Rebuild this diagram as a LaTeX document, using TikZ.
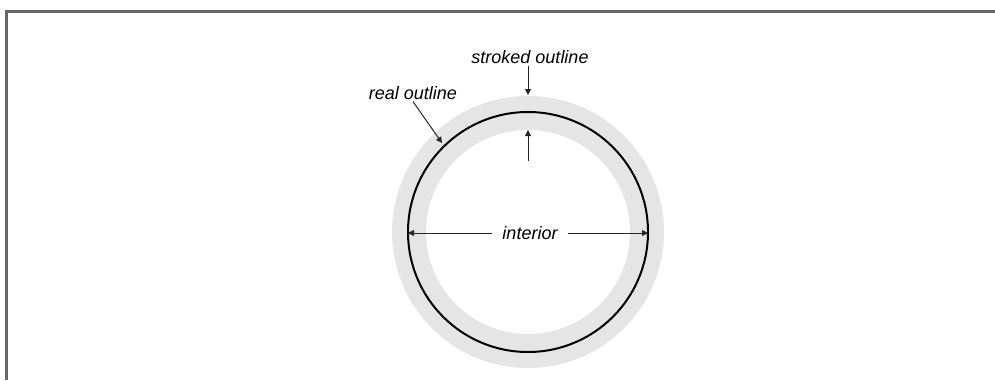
\documentclass[tikz,border=0pt]{standalone}
\usepackage{fontspec}
\setmainfont{Liberation Sans}
\usepackage{tikz}
\usetikzlibrary{arrows.meta, positioning}

\begin{document}
\begin{tikzpicture}[
  x=0.5pt, y=-0.5pt,
  every node/.style={font=\itshape\fontsize{9}{10}\selectfont, inner sep=1pt},
  pointer/.style={draw=black!85, line width=0.5pt, -{Triangle[length=3pt,width=3pt]}},
  frameline/.style={draw=black!60, line width=1.5pt},
]
  \useasboundingbox (0,0) rectangle (995,380);
  % frame
  \draw[frameline] (5,11) -- (995,11);
  \draw[frameline] (6.5,10.3) -- (6.5,380);
  % the stroked band and the real outline
  \coordinate (c) at (528,232);
  \draw[gray!20, line width=17pt] (c) circle[radius=119];
  \draw[black, line width=1pt] (c) circle[radius=120];
  % labels
  \node[anchor=base] (stroked) at (530,63) {stroked outline};
  \node[anchor=base] (real) at (413,99) {real outline};
  \node[anchor=base, inner xsep=5pt] (interior) at (530,239) {interior};
  % arrow ends
  \coordinate (ringtop) at (528,95);
  \coordinate (ringin) at (528,130);
  \coordinate (tail) at (528,161);
  \coordinate (hit) at (442,143);
  \coordinate (lft) at (408,233);
  \coordinate (rgt) at (648,233);
  % arrows
  \draw[pointer] (stroked.south -| ringtop) -- (ringtop);
  \draw[pointer] (tail) -- (ringin);
  \draw[pointer] (real.south) -- (hit);
  \draw[pointer] (interior.west |- lft) -- (lft);
  \draw[pointer] (interior.east |- rgt) -- (rgt);
\end{tikzpicture}
\end{document}
